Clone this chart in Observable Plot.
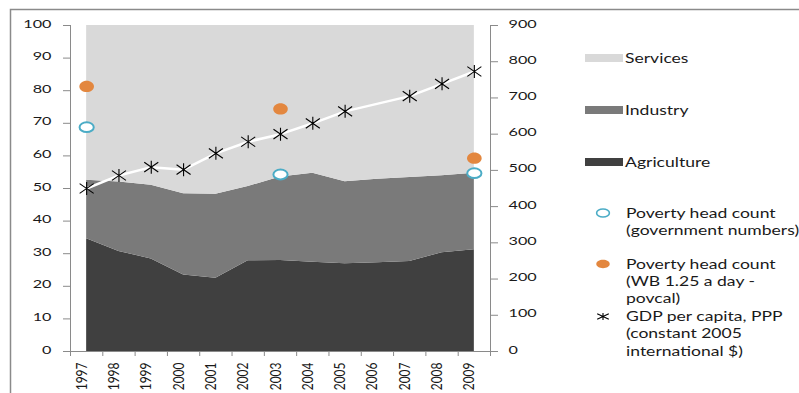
<!DOCTYPE html>
<html>
<head>
<meta charset="utf-8">
<script src="https://cdn.jsdelivr.net/npm/d3@7"></script>
<script src="https://cdn.jsdelivr.net/npm/@observablehq/plot@0.6"></script>
<style>
  body { margin: 0; background: #fff; }
  #chart { width: 799px; height: 393px; overflow: hidden; }
  #chart svg { display: block; }
</style>
</head>
<body>
<div id="chart"></div>
<script>
// Sector shares of GDP (%), stacked: agriculture at the bottom, services on top
const years = [1997, 1998, 1999, 2000, 2001, 2002, 2003, 2004, 2005, 2006, 2007, 2008, 2009];
const agriculture = [34.6, 30.7, 28.4, 23.5, 22.5, 27.8, 27.9, 27.4, 26.9, 27.2, 27.6, 30.3, 31.2];
const industry    = [17.9, 21.3, 22.6, 24.9, 25.7, 22.8, 25.6, 27.3, 25.2, 25.6, 25.8, 23.6, 23.5];
const services    = [47.5, 48.0, 49.0, 51.6, 51.8, 49.4, 46.5, 45.3, 47.9, 47.2, 46.6, 46.1, 45.3];

// GDP per capita, PPP (constant 2005 international $), right axis; no figure for 2006
const gdpPerCapita = [450, 486, 509, 502, 547, 579, 600, 630, 663, null, 705, 739, 773];

// Poverty head count (%), left axis
const povertyYears = [1997, 2003, 2009];
const povertyGovernment = [68.8, 54.3, 54.7];
const povertyWB = [81.3, 74.4, 59.3];

// Axis ticks
const shareTicks = [0, 10, 20, 30, 40, 50, 60, 70, 80, 90, 100];
const gdpTicks = [0, 100, 200, 300, 400, 500, 600, 700, 800, 900];

const sectors = ["Agriculture", "Industry", "Services"];
const sectorLabels = ["Services", "Industry", "Agriculture"];
const sectorColors = ["#404040", "#7a7a7a", "#d9d9d9"];

const axisGray = "#8a8a8a";
const textColor = "#1a1a1a";
const govColor = "#4bacc6";
const wbColor = "#e3873f";
const fontFamily = "Lato, 'Open Sans', sans-serif";
const stretch = 1.35; // the text face is set wide

// The GDP series shares the left (0–100) scale; the right axis relabels it 0–900
const gdpMax = 900;
const toShare = v => v * 100 / gdpMax;

// Marker shapes: a flattened ring/dot and a six-armed star
const ellipse = sx => ({
  draw(ctx, size) {
    const ry = Math.sqrt(size / Math.PI), rx = ry * sx, k = 0.5523;
    ctx.moveTo(rx, 0);
    ctx.bezierCurveTo(rx, ry * k, rx * k, ry, 0, ry);
    ctx.bezierCurveTo(-rx * k, ry, -rx, ry * k, -rx, 0);
    ctx.bezierCurveTo(-rx, -ry * k, -rx * k, -ry, 0, -ry);
    ctx.bezierCurveTo(rx * k, -ry, rx, -ry * k, rx, 0);
    ctx.closePath();
  }
});
const star = (sx, sy) => ({
  draw(ctx, size) {
    const r = Math.sqrt(size / Math.PI);
    ctx.moveTo(0, -r * sy); ctx.lineTo(0, r * sy);
    ctx.moveTo(-r * sx, -r * sy * 0.75); ctx.lineTo(r * sx, r * sy * 0.75);
    ctx.moveTo(-r * sx, r * sy * 0.75); ctx.lineTo(r * sx, -r * sy * 0.75);
  }
});

const sectorSeries = {Agriculture: agriculture, Industry: industry, Services: services};
const sectorRows = years.flatMap((year, i) => sectors.map(sector => ({year, sector, share: sectorSeries[sector][i]})));
const gdpRows = years.map((year, i) => ({year, gdp: gdpPerCapita[i]})).filter(d => d.gdp != null);
const govRows = povertyYears.map((year, i) => ({year, value: povertyGovernment[i]}));
const wbRows = povertyYears.map((year, i) => ({year, value: povertyWB[i]}));
const bandEdges = d3.range(years[0] - 0.5, years[years.length - 1] + 1, 1);

const chart = Plot.plot({
  width: 799,
  height: 393,
  marginLeft: 70,
  marginRight: 309,
  marginTop: 25,
  marginBottom: 42,
  x: {domain: [years[0] - 0.5, years[years.length - 1] + 0.5]},
  y: {domain: [0, 100]},
  color: {domain: sectors, range: sectorColors},
  style: {fontFamily, fontSize: "12px", color: textColor, background: "white"},
  marks: [
    Plot.areaY(sectorRows, {x: "year", y: "share", fill: "sector", order: sectors}),
    Plot.ruleY([0], {stroke: axisGray}),
    Plot.ruleX([bandEdges[0], bandEdges[bandEdges.length - 1]], {y1: 0, y2: 100, stroke: axisGray}),
    Plot.axisY({ticks: shareTicks, anchor: "left", tickSize: 7, tickPadding: 12, stroke: axisGray, fill: textColor, label: null}),
    Plot.axisY({ticks: gdpTicks.map(toShare), anchor: "right", tickSize: 7, tickPadding: 11,
      tickFormat: d => String(Math.round(d * gdpMax / 100)), stroke: axisGray, fill: textColor, label: null}),
    Plot.axisX({ticks: bandEdges, tickSize: 5, tickFormat: () => "", stroke: axisGray, label: null}),
    Plot.axisX({ticks: years, tickSize: 0, tickPadding: 11, tickRotate: -90, tickFormat: d => String(d), fill: textColor, label: null}),
    Plot.line(gdpRows, {x: "year", y: d => toShare(d.gdp), stroke: "white", strokeWidth: 2.5}),
    Plot.dot(gdpRows, {x: "year", y: d => toShare(d.gdp), symbol: star(1.08, 1), r: 6.5, fill: "none", stroke: "black", strokeWidth: 1.1}),
    Plot.dot(govRows, {x: "year", y: "value", symbol: ellipse(1.45), r: 4.9, fill: "white", stroke: govColor, strokeWidth: 2}),
    Plot.dot(wbRows, {x: "year", y: "value", symbol: ellipse(1.3), r: 5.6, fill: wbColor, stroke: "none"})
  ]
});

document.getElementById("chart").appendChild(chart);
const svg = d3.select(chart);

// Chart-area border along the top and left
svg.append("path")
  .attr("d", "M10.5,393V9.5H799")
  .attr("fill", "none")
  .attr("stroke", axisGray)
  .attr("stroke-width", 1.5);

// Legend
const legend = svg.append("g")
  .attr("font-family", fontFamily)
  .attr("font-size", 13)
  .attr("text-anchor", "start")
  .attr("fill", textColor);

sectorLabels.forEach((label, i) => {
  const y = 58 + i * 52;
  legend.append("rect")
    .attr("x", 585).attr("y", y - 4).attr("width", 38).attr("height", 8)
    .attr("fill", sectorColors[sectors.indexOf(label)]);
  legend.append("text")
    .attr("transform", `translate(625,${y})`)
    .attr("dy", "0.35em")
    .text(label);
});

const markerEntries = [
  {symbol: ellipse(1.6), r: 4, fill: "white", stroke: govColor, strokeWidth: 1.6, y: 213,
   lines: ["Poverty head count", "(government numbers)"]},
  {symbol: ellipse(1.6), r: 4.2, fill: wbColor, stroke: "none", strokeWidth: 0, y: 264,
   lines: ["Poverty head count", "(WB 1.25 a day -", "povcal)"]},
  {symbol: star(1.45, 0.9), r: 4, fill: "none", stroke: "black", strokeWidth: 1.1, y: 316.5,
   lines: ["GDP per capita, PPP", "(constant 2005", "international $)"]}
];
markerEntries.forEach(e => {
  legend.append("path")
    .attr("transform", `translate(603,${e.y})`)
    .attr("d", d3.symbol(e.symbol, e.r * e.r * Math.PI)())
    .attr("fill", e.fill)
    .attr("stroke", e.stroke)
    .attr("stroke-width", e.strokeWidth);
  e.lines.forEach((line, j) => {
    legend.append("text")
      .attr("transform", `translate(626,${e.y + 4.5 + j * 17.3})`)
      .text(line);
  });
});

// Widen every label horizontally about its own anchor point;
// the y-axis numbers also sit a little lower so they centre on their ticks
chart.querySelectorAll("text").forEach(t => {
  const tr = t.getAttribute("transform") || "";
  const x = +t.getAttribute("x") || 0, y = +t.getAttribute("y") || 0;
  t.removeAttribute("x"); t.removeAttribute("y");
  const onYAxis = /y-axis/.test(t.closest("g[aria-label]")?.getAttribute("aria-label") || "");
  const base = `${tr} translate(${x},${y + (onYAxis ? 2 : 0)})`;
  t.setAttribute("transform", /rotate/.test(tr)
    ? tr.replace(/rotate/, `scale(${stretch},1) rotate`)
    : `${base} scale(${stretch},1)`);
});
</script>
</body>
</html>
